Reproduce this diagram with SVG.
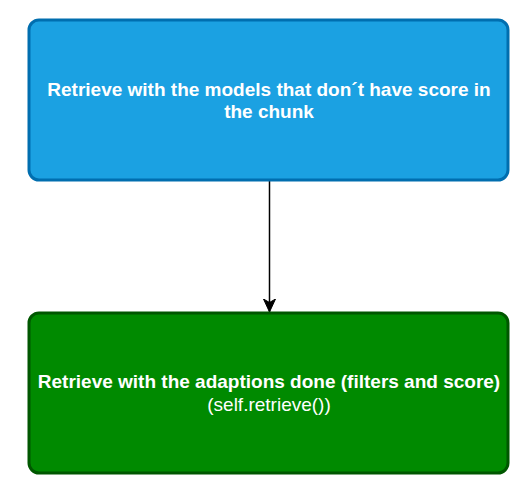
<svg xmlns="http://www.w3.org/2000/svg" width="527" height="491" viewBox="0 0 527 491">
<style>
.box{stroke-width:3}
.blue{fill:#1BA1E2;stroke:#006EAF}
.green{fill:#008A00;stroke:#005700}
text{font-family:"Liberation Sans",Arial,sans-serif;font-size:19px;fill:#ffffff;text-anchor:middle}
.b{font-weight:bold}
.edge{stroke:#000000;stroke-width:1.5;fill:none}
</style>
<defs>
<marker id="arr" markerWidth="14" markerHeight="13" refX="13" refY="6.5" orient="auto" markerUnits="userSpaceOnUse" viewBox="0 0 14 13">
<path d="M13,6.5 L0,0.5 L3.5,6.5 L0,12.5 Z" fill="#000" stroke="#000" stroke-width="1"/>
</marker>
</defs>
<rect width="527" height="491" fill="#ffffff"/>
<g id="connectors">
<path class="edge" d="M269.5,181 L269.5,312" marker-end="url(#arr)"/>
</g>
<g id="node1">
<rect class="box blue" x="29" y="20" width="479" height="160" rx="10" ry="10"/>
<text class="b" x="269" y="96">Retrieve with the models that don´t have score in</text>
<text class="b" x="269" y="118">the chunk</text>
</g>
<g id="node2">
<rect class="box green" x="29" y="313" width="479" height="160" rx="10" ry="10"/>
<text class="b" x="269" y="388">Retrieve with the adaptions done (filters and score)</text>
<text x="269" y="411">(self.retrieve())</text>
</g>
</svg>
